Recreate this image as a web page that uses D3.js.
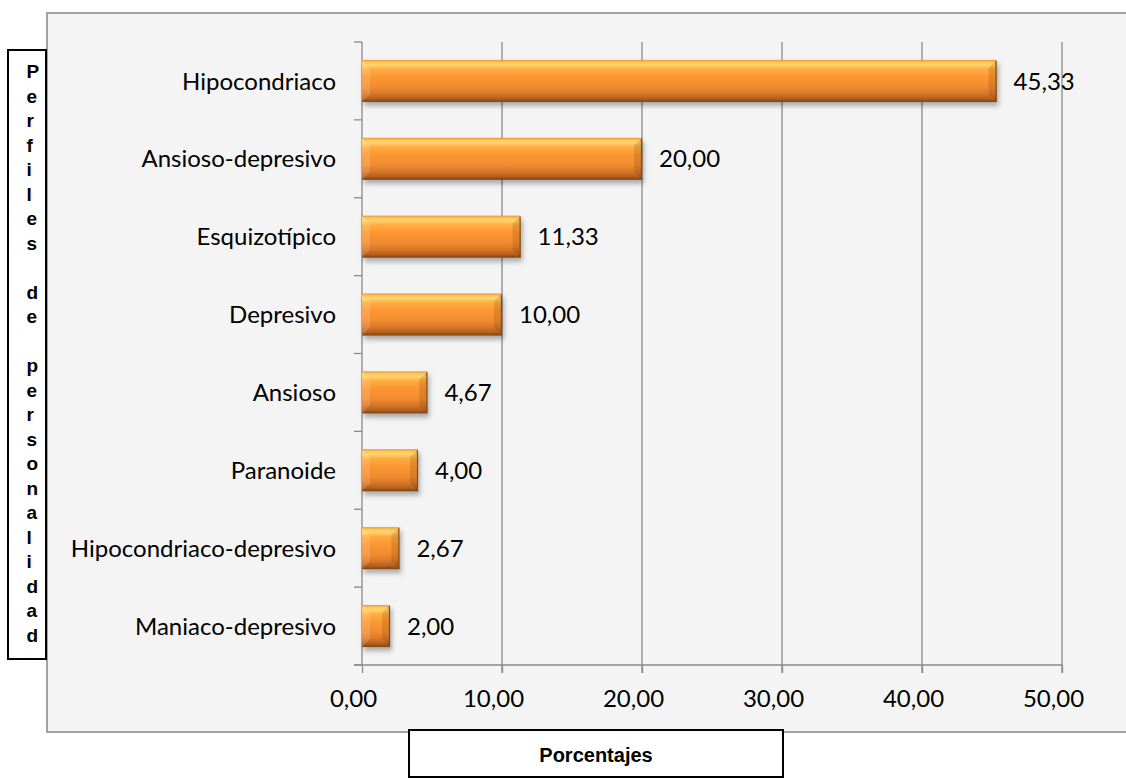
<!DOCTYPE html>
<html>
<head>
<meta charset="utf-8">
<script src="https://cdn.jsdelivr.net/npm/d3@7/dist/d3.min.js"></script>
<style>
  html, body { margin: 0; padding: 0; background: #ffffff; }
  svg { display: block; }
</style>
</head>
<body>
<svg id="chart" width="1126" height="778"></svg>
<script>
// Perfiles de personalidad (%)
const categories = [
  "Hipocondriaco",
  "Ansioso-depresivo",
  "Esquizotípico",
  "Depresivo",
  "Ansioso",
  "Paranoide",
  "Hipocondriaco-depresivo",
  "Maniaco-depresivo"
];
const values = [45.33, 20.00, 11.33, 10.00, 4.67, 4.00, 2.67, 2.00];
const xTicks = [0, 10, 20, 30, 40, 50];
const yTitle = "Perfiles de personalidad";
const xTitle = "Porcentajes";

const svg = d3.select("#chart");
const labelFont = "Lato, 'Open Sans', sans-serif";
const boldFont = "'Liberation Sans', Arial, sans-serif";
const comma = d => d3.format(".2f")(d).replace(".", ",");

// chart area panel
svg.append("rect")
  .attr("x", 47).attr("y", 13)
  .attr("width", 1100).attr("height", 719)
  .attr("fill", "#f4f4f4")
  .attr("stroke", "#8c8c8c")
  .attr("stroke-width", 1.6);

const plot = { left: 362, right: 1062, top: 42, bottom: 665 };

const x = d3.scaleLinear().domain([0, 50]).range([plot.left, plot.right]);
const y = d3.scaleBand().domain(categories)
  .range([plot.top, plot.bottom])
  .paddingInner(0.46).paddingOuter(0.23);

const defs = svg.append("defs");

// bar body: light top edge, orange middle, darker bottom rim
const grad = defs.append("linearGradient")
  .attr("id", "barGrad").attr("x1", 0).attr("y1", 0).attr("x2", 0).attr("y2", 1);
[
  [0.00, "#ee8e2c"],
  [0.05, "#ffc75e"],
  [0.12, "#ffd46e"],
  [0.22, "#ffad42"],
  [0.40, "#fd9733"],
  [0.65, "#f08b2f"],
  [0.80, "#d9772a"],
  [0.92, "#b5601e"],
  [1.00, "#7a4212"]
].forEach(([o, c]) => grad.append("stop").attr("offset", o).attr("stop-color", c));

const shadow = defs.append("filter").attr("id", "barShadow")
  .attr("x", "-10%").attr("y", "-20%").attr("width", "130%").attr("height", "160%");
shadow.append("feDropShadow")
  .attr("dx", 2).attr("dy", 4).attr("stdDeviation", 2.4)
  .attr("flood-color", "#000").attr("flood-opacity", 0.3);

// gridlines (extend below the axis as tick marks)
svg.append("g").selectAll("line")
  .data(xTicks.filter(d => d > 0))
  .join("line")
  .attr("x1", d => x(d)).attr("x2", d => x(d))
  .attr("y1", plot.top).attr("y2", plot.bottom + 8)
  .attr("stroke", "#8a8a8a").attr("stroke-width", 1.3);

// x axis
const xAxis = svg.append("g")
  .attr("transform", `translate(0,${plot.bottom})`)
  .call(d3.axisBottom(x).tickValues(xTicks).tickFormat(comma).tickSize(8).tickSizeOuter(0));
xAxis.select(".domain")
  .attr("d", `M${plot.left - 8},0H${plot.right}`)
  .attr("stroke", "#8a8a8a").attr("stroke-width", 1.3);
xAxis.selectAll(".tick line").attr("stroke", "#8a8a8a").attr("stroke-width", 1.3);
xAxis.selectAll(".tick text")
  .attr("y", 42).attr("dy", 0).attr("dx", -9)
  .attr("fill", "#000")
  .style("font-family", labelFont).style("font-size", "24px");

// y axis with category labels
const yAxis = svg.append("g")
  .attr("transform", `translate(${plot.left},0)`)
  .call(d3.axisLeft(y).tickSize(0).tickPadding(26));
yAxis.select(".domain")
  .attr("d", `M0,${plot.top}V${plot.bottom}`)
  .attr("stroke", "#8a8a8a").attr("stroke-width", 1.3);
yAxis.selectAll(".tick text")
  .attr("dy", "0.36em")
  .attr("fill", "#000")
  .style("font-family", labelFont).style("font-size", "24px");

// category boundary ticks
const step = y.step();
const bounds = categories.map(c => y(c) - y.paddingInner() * step / 2);
bounds.push(plot.bottom);
bounds[0] = plot.top;
yAxis.append("g").selectAll("line")
  .data(bounds).join("line")
  .attr("x1", -8).attr("x2", 0)
  .attr("y1", d => d).attr("y2", d => d)
  .attr("stroke", "#8a8a8a").attr("stroke-width", 1.3);

// bars with bevelled ends
const bw = y.bandwidth();
const bev = 8;
const bars = svg.append("g").selectAll("g")
  .data(categories.map((c, i) => ({ c, v: values[i] })))
  .join("g");

bars.append("rect")
  .attr("x", x(0)).attr("y", d => y(d.c))
  .attr("width", d => x(d.v) - x(0)).attr("height", bw)
  .attr("fill", "url(#barGrad)")
  .attr("filter", "url(#barShadow)");

// left bevel facet
bars.append("path")
  .attr("d", d => {
    const x0 = x(0), y0 = y(d.c), b = Math.min(bev, (x(d.v) - x0) / 2);
    return `M${x0},${y0}L${x0 + b},${y0 + b}L${x0 + b},${y0 + bw - b}L${x0},${y0 + bw}Z`;
  })
  .attr("fill", "#fff").attr("fill-opacity", 0.14);

// right bevel facet
bars.append("path")
  .attr("d", d => {
    const x1 = x(d.v), y0 = y(d.c), b = Math.min(bev, (x1 - x(0)) / 2);
    return `M${x1},${y0}L${x1 - b},${y0 + b}L${x1 - b},${y0 + bw - b}L${x1},${y0 + bw}Z`;
  })
  .attr("fill", "#5a2a00").attr("fill-opacity", 0.16);

// right edge line
bars.append("line")
  .attr("x1", d => x(d.v) - 0.5).attr("x2", d => x(d.v) - 0.5)
  .attr("y1", d => y(d.c) + 1).attr("y2", d => y(d.c) + bw)
  .attr("stroke", "#8a4a16").attr("stroke-width", 1.2);

// value labels
bars.append("text")
  .attr("x", d => x(d.v) + 17)
  .attr("y", d => y(d.c) + bw / 2)
  .attr("dy", "0.36em")
  .attr("fill", "#000")
  .style("font-family", labelFont).style("font-size", "24px")
  .text(d => comma(d.v));

// vertical axis title box
svg.append("rect")
  .attr("x", 8).attr("y", 50).attr("width", 38).attr("height", 609)
  .attr("fill", "#fff").attr("stroke", "#000").attr("stroke-width", 2);
svg.append("g").selectAll("text")
  .data(yTitle.split(""))
  .join("text")
  .attr("x", 26.5)
  .attr("y", (d, i) => 78.3 + i * 24.5)
  .attr("fill", "#000")
  .style("font-family", boldFont).style("font-weight", "bold").style("font-size", "19px")
  .text(d => d);

// horizontal axis title box
svg.append("rect")
  .attr("x", 409).attr("y", 730).attr("width", 374).attr("height", 47)
  .attr("fill", "#fff").attr("stroke", "#000").attr("stroke-width", 2);
svg.append("text")
  .attr("x", 596).attr("y", 762)
  .attr("text-anchor", "middle")
  .attr("fill", "#000")
  .style("font-family", boldFont).style("font-weight", "bold").style("font-size", "20px")
  .text(xTitle);
</script>
</body>
</html>
